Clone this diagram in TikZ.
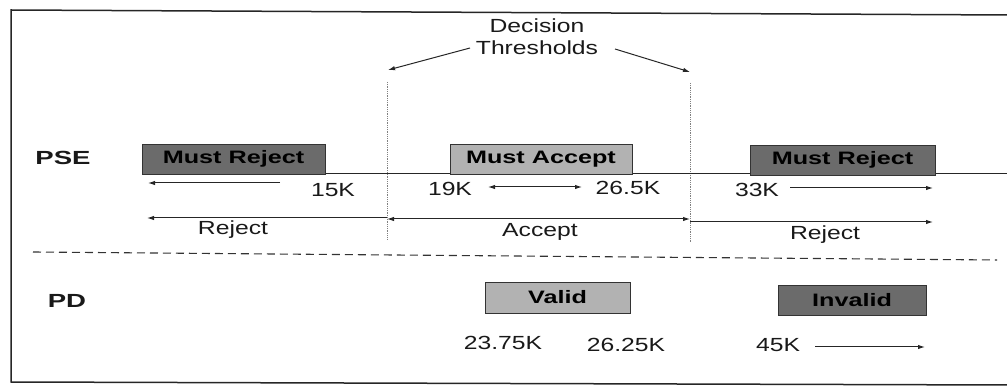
\documentclass[tikz,border=0pt]{standalone}
\usepackage{fontspec}
\setmainfont{Liberation Sans}
\usepackage{graphicx}
\usetikzlibrary{arrows.meta}
\newcommand{\rtx}[1]{\scalebox{1.3}[1]{#1}}
\newcommand{\htx}[1]{\scalebox{1.45}[1]{#1}}
\newcommand{\btx}[1]{\scalebox{1.4}[1]{#1}}
\begin{document}
\begin{tikzpicture}[x=1pt,y=-1pt,
  txt/.style={font=\fontsize{19}{23}\selectfont, inner sep=0pt, anchor=base, text=black!90},
  hdr/.style={font=\fontsize{19}{23}\selectfont\bfseries, inner sep=0pt, anchor=base, text=black!90},
  boxbase/.style={draw=black!80, line width=0.9pt, minimum height=30pt, inner sep=0pt,
    font=\fontsize{18}{21}\selectfont\bfseries, text=black},
  darkbox/.style={boxbase, fill=black!58, text=black},
  lightbox/.style={boxbase, fill=black!30, text=black},
  arr/.style={draw=black!85, line width=1pt, -{Latex[length=7pt,width=4.5pt]}},
  darr/.style={draw=black!85, line width=1pt, {Latex[length=7pt,width=4.5pt]}-{Latex[length=7pt,width=4.5pt]}},
  thr/.style={draw=black!50, line width=0.8pt, densely dotted},
  frameline/.style={draw=black!85, line width=1.5pt},
  sepline/.style={draw=black!80, line width=1.1pt, dash pattern=on 8pt off 5pt},
  axis/.style={draw=black!85, line width=1pt},
]
\useasboundingbox (0,0) rectangle (1007,387);

% frame
\coordinate (f1) at (1010,15);
\coordinate (f2) at (11,10);
\coordinate (f3) at (11,382);
\coordinate (f4) at (1010,385);
\draw[frameline] (f1) -- (f2) -- (f3) -- (f4);

% decision thresholds
\node[font=\fontsize{19}{22}\selectfont, align=center, inner sep=0pt, anchor=north, text=black!90]
  (dt) at (537,19) {\rtx{Decision}\\\rtx{Thresholds}};
\coordinate (dl) at (470,48);
\coordinate (dr) at (615,49);
\coordinate (al) at (388,70);
\coordinate (ar) at (690,72);
\draw[arr] (dl) -- (al);
\draw[arr] (dr) -- (ar);

% threshold lines
\coordinate (t1a) at (387,82);
\coordinate (t1b) at (387,240);
\coordinate (t2a) at (690,83);
\coordinate (t2b) at (690,242);
\draw[thr] (t1a) -- (t1b);
\draw[thr] (t2a) -- (t2b);

% PSE row
\node[hdr] (pse) at (63,165) {\htx{PSE}};
\coordinate (p0) at (142,174);
\coordinate (p1) at (1007,174);
\draw[axis] (p0) -- (p1);
\node[darkbox, minimum width=183pt] (mr1) at (233.5,159) {\btx{Must Reject}};
\node[lightbox, minimum width=182pt] (ma) at (541,159) {\btx{Must Accept}};
\node[darkbox, minimum width=185pt] (mr2) at (842.5,160) {\btx{Must Reject}};

\node[txt] (k15) at (333,197) {\rtx{15K}};
\node[txt] (k19) at (450,196) {\rtx{19K}};
\node[txt] (k265) at (628,195) {\rtx{26.5K}};
\node[txt] (k33) at (757,197) {\rtx{33K}};
\coordinate (r1s) at (280,183);
\coordinate (r1e) at (148,183);
\coordinate (a1s) at (488,187);
\coordinate (a1e) at (582,187);
\coordinate (r2s) at (790,188);
\coordinate (r2e) at (933,188);
\draw[arr] (r1s) -- (r1e);
\draw[darr] (a1s) -- (a1e);
\draw[arr] (r2s) -- (r2e);

% decision row
\coordinate (d1s) at (387,218);
\coordinate (d1e) at (147,218);
\coordinate (d2s) at (387,219);
\coordinate (d2e) at (690,219);
\coordinate (d3s) at (690,222);
\coordinate (d3e) at (933,222);
\draw[arr] (d1s) -- (d1e);
\draw[darr] (d2s) -- (d2e);
\draw[arr] (d3s) -- (d3e);
\node[txt] (rej1) at (233,235) {\rtx{Reject}};
\node[txt] (acc) at (540,237) {\rtx{Accept}};
\node[txt] (rej2) at (825,240) {\rtx{Reject}};

% separator
\coordinate (s0) at (33,252);
\coordinate (s1) at (997,260);
\draw[sepline] (s0) -- (s1);

% PD row
\node[hdr] (pd) at (67,308) {\htx{PD}};
\node[lightbox, minimum width=145pt, minimum height=31pt] (valid) at (557.5,297.5) {\btx{Valid}};
\node[darkbox, minimum width=148pt] (invalid) at (852,300) {\btx{Invalid}};
\node[txt] (k2375) at (503,350) {\rtx{23.75K}};
\node[txt] (k2625) at (626,352) {\rtx{26.25K}};
\node[txt] (k45) at (778,352) {\rtx{45K}};
\coordinate (i1s) at (815,347);
\coordinate (i1e) at (925,347);
\draw[arr] (i1s) -- (i1e);
\end{tikzpicture}
\end{document}
